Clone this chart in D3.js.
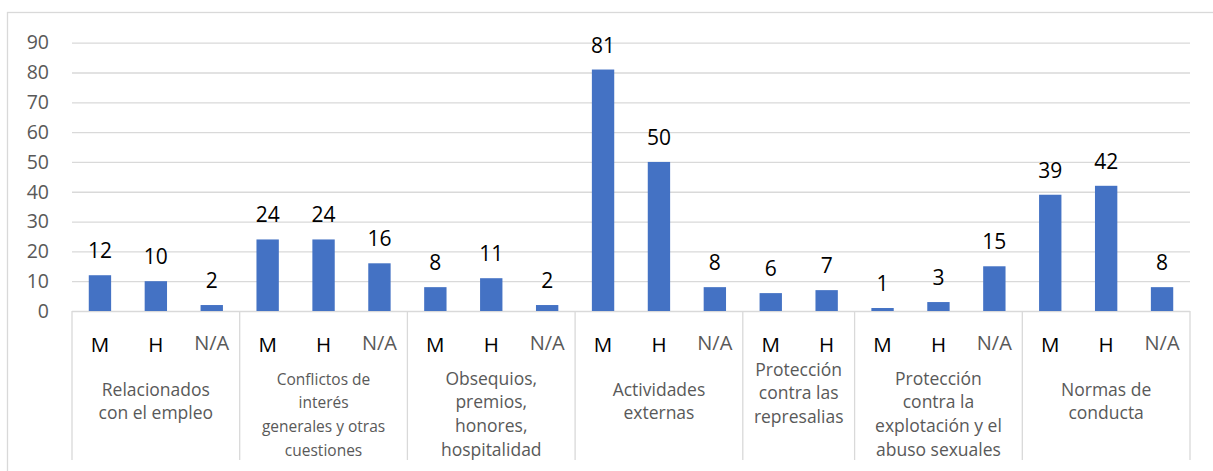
<!DOCTYPE html>
<html>
<head>
<meta charset="utf-8">
<script src="https://cdn.jsdelivr.net/npm/d3@7"></script>
<style>
  body { margin: 0; background: #fff; }
  svg { display: block; font-family: "Open Sans", "Noto Sans", sans-serif; }
</style>
</head>
<body>
<div id="chart"></div>
<script>
// categorias (lineas como aparecen en el grafico)
var groupLabels = [
  ["Relacionados", "con el empleo"],
  ["Conflictos de", "interés", "generales y otras", "cuestiones"],
  ["Obsequios,", "premios,", "honores,", "hospitalidad"],
  ["Actividades", "externas"],
  ["Protección", "contra las", "represalias"],
  ["Protección", "contra la", "explotación y el", "abuso sexuales"],
  ["Normas de", "conducta"]
];
var sexLabels = [
  ["M", "H", "N/A"],
  ["M", "H", "N/A"],
  ["M", "H", "N/A"],
  ["M", "H", "N/A"],
  ["M", "H"],
  ["M", "H", "N/A"],
  ["M", "H", "N/A"]
];
var values = [
  [12, 10, 2],
  [24, 24, 16],
  [8, 11, 2],
  [81, 50, 8],
  [6, 7],
  [1, 3, 15],
  [39, 42, 8]
];
var yTicks = [0, 10, 20, 30, 40, 50, 60, 70, 80, 90];

// layout
var width = 1213, height = 471;
var plotLeft = 72, plotRight = 1190, plotTop = 42.7, plotBottom = 311, sepBottom = 460;
var groupFont = [17.5, 15.5, 17.5, 17.5, 17.5, 17.5, 17.5];
var firstLine = {2: 390, 3: 370, 4: 379};
var gray = "#595959", lineCol = "#d9d9d9", barCol = "#4472c4";

var bars = [];
values.forEach(function(vals, g) {
  vals.forEach(function(v, i) {
    bars.push({key: g + "-" + i, group: g, sex: sexLabels[g][i], value: v});
  });
});

var x = d3.scaleBand()
  .domain(bars.map(function(d) { return d.key; }))
  .range([plotLeft, plotRight])
  .paddingInner(0.6)
  .paddingOuter(0.3);

var y = d3.scaleLinear().domain([0, 90]).range([plotBottom, plotTop]);

var svg = d3.select("#chart").append("svg")
  .attr("width", width)
  .attr("height", height);

// marco del grafico
svg.append("rect")
  .attr("x", 7.5).attr("y", 12.5)
  .attr("width", 1230).attr("height", 480)
  .attr("fill", "none")
  .attr("stroke", lineCol)
  .attr("stroke-width", 1.3);

// grid + eje y
var yAxis = svg.append("g")
  .attr("transform", "translate(" + plotLeft + ",0)")
  .call(d3.axisLeft(y).tickValues(yTicks).tickSize(-(plotRight - plotLeft)).tickPadding(23));
yAxis.select(".domain").remove();
yAxis.selectAll(".tick line").attr("stroke", lineCol).attr("stroke-width", 1.3);
yAxis.selectAll(".tick text")
  .attr("fill", gray)
  .style("font-size", "19.5px")
  .style("font-family", "'Open Sans', sans-serif");

// barras
svg.append("g").selectAll("rect")
  .data(bars)
  .enter()
  .append("rect")
  .attr("x", function(d) { return x(d.key); })
  .attr("y", function(d) { return y(d.value); })
  .attr("width", x.bandwidth())
  .attr("height", function(d) { return y(0) - y(d.value); })
  .attr("fill", barCol);

// etiquetas de datos
svg.append("g").selectAll("text")
  .data(bars)
  .enter()
  .append("text")
  .attr("x", function(d) { return x(d.key) + x.bandwidth() / 2; })
  .attr("y", function(d) { return y(d.value) - 17; })
  .attr("text-anchor", "middle")
  .attr("fill", "#000")
  .style("font-size", "21px")
  .text(function(d) { return d.value; });

// separadores de grupo
var half = x.step() * x.paddingInner() / 2;
var bounds = [];
groupLabels.forEach(function(lbl, g) {
  var first = bars.filter(function(d) { return d.group == g; });
  var a = x(first[0].key) - half;
  var b = x(first[first.length - 1].key) + x.bandwidth() + half;
  bounds.push({g: g, a: a, b: b});
});
var sepX = [bounds[0].a].concat(bounds.map(function(d) { return d.b; }));
svg.append("g").selectAll("line")
  .data(sepX)
  .enter()
  .append("line")
  .attr("x1", function(d) { return d; })
  .attr("x2", function(d) { return d; })
  .attr("y1", plotBottom)
  .attr("y2", sepBottom)
  .attr("stroke", lineCol)
  .attr("stroke-width", 1.3);

// etiquetas M / H / N/A
svg.append("g").selectAll("text")
  .data(bars)
  .enter()
  .append("text")
  .attr("x", function(d) { return x(d.key) + x.bandwidth() / 2; })
  .attr("y", function(d) { return d.sex == "N/A" ? 350 : 351.5; })
  .attr("text-anchor", "middle")
  .attr("fill", function(d) { return d.sex == "N/A" ? gray : "#000"; })
  .style("font-size", function(d) { return d.sex == "N/A" ? "20px" : "20.5px"; })
  .text(function(d) { return d.sex; });

// etiquetas de grupo
var gl = svg.append("g").selectAll("text")
  .data(bounds)
  .enter()
  .append("text")
  .attr("text-anchor", "middle")
  .attr("fill", gray)
  .style("font-size", function(d) { return groupFont[d.g] + "px"; });

gl.selectAll("tspan")
  .data(function(d) {
    var lines = groupLabels[d.g];
    return lines.map(function(t, i) {
      return {t: t, x: (d.a + d.b) / 2, y: firstLine[lines.length] + 5.5 + i * 23.8};
    });
  })
  .enter()
  .append("tspan")
  .attr("x", function(d) { return d.x; })
  .attr("y", function(d) { return d.y; })
  .text(function(d) { return d.t; });
</script>
</body>
</html>
